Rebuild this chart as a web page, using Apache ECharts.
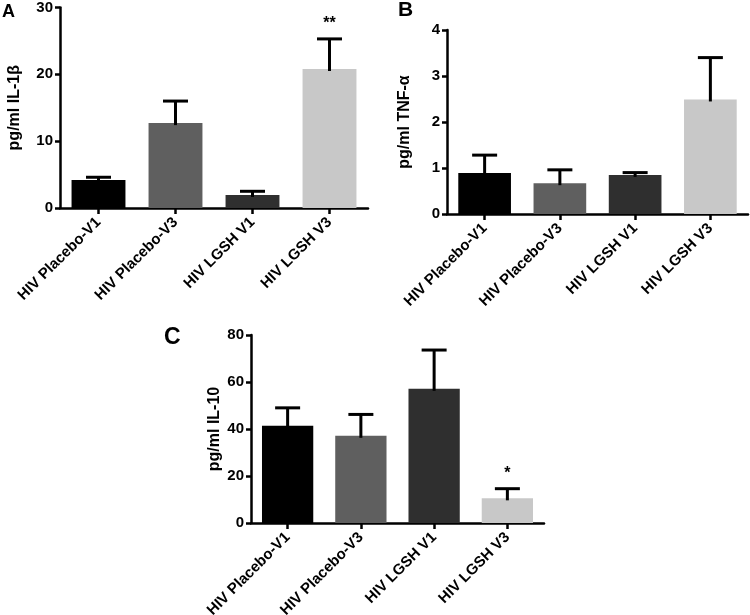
<!DOCTYPE html>
<html>
<head>
<meta charset="utf-8">
<script src="https://cdn.jsdelivr.net/npm/echarts@6/dist/echarts.min.js"></script>
<style>html,body{margin:0;padding:0;background:#fff}#c{width:750px;height:615px}</style>
</head>
<body>
<div id="c"></div>
<script>
const categories = ['HIV Placebo-V1', 'HIV Placebo-V3', 'HIV LGSH V1', 'HIV LGSH V3'];
const barColors = ['#000000', '#5f5f5f', '#2f2f2f', '#c8c8c8'];

const il1bMean = [4.2, 12.7, 1.95, 20.8];
const il1bSem = [0.4, 3.3, 0.55, 4.5];
const il1bSig = ['', '', '', '**'];
const il1bTicks = { min: 0, max: 30, interval: 10 };

const tnfMean = [0.89, 0.67, 0.85, 2.49];
const tnfSem = [0.39, 0.29, 0.05, 0.91];
const tnfSig = ['', '', '', ''];
const tnfTicks = { min: 0, max: 4, interval: 1 };

const il10Mean = [41.4, 37.1, 57.1, 10.5];
const il10Sem = [7.6, 9.1, 16.5, 4.1];
const il10Sig = ['', '', '', '*'];
const il10Ticks = { min: 0, max: 80, interval: 20 };

const FONT = '"Liberation Sans", Arial, sans-serif';

const panels = [
  { letter: 'A', title: 'pg/ml IL-1β', mean: il1bMean, sem: il1bSem, sig: il1bSig, ticks: il1bTicks,
    grid: { left: 60, top: 7.5, width: 308, height: 200.5 }, gap: 37 },
  { letter: 'B', title: 'pg/ml TNF-α', mean: tnfMean, sem: tnfSem, sig: tnfSig, ticks: tnfTicks,
    grid: { left: 447, top: 30, width: 301, height: 184 }, gap: 34 },
  { letter: 'C', title: 'pg/ml IL-10', mean: il10Mean, sem: il10Sem, sig: il10Sig, ticks: il10Ticks,
    grid: { left: 251, top: 335, width: 293, height: 188 }, gap: 28 }
];

const grids = [], xAxes = [], yAxes = [], series = [];
panels.forEach((p, i) => {
  grids.push(Object.assign({ containLabel: false, outerBoundsMode: 'none' }, p.grid));
  xAxes.push({
    type: 'category', gridIndex: i, data: categories,
    axisLine: { lineStyle: { color: '#000', width: 2.5 } },
    axisTick: { show: true, alignWithLabel: true, length: 6, lineStyle: { color: '#000', width: 2.5 } },
    axisLabel: { rotate: 45, margin: 12, color: '#000', fontFamily: FONT, fontWeight: 'bold', fontSize: 15, interval: 0 },
    splitLine: { show: false }
  });
  yAxes.push({
    type: 'value', gridIndex: i, min: p.ticks.min, max: p.ticks.max, interval: p.ticks.interval,
    name: p.title, nameLocation: 'middle', nameRotate: 90, nameGap: p.gap,
    nameTextStyle: { color: '#000', fontFamily: FONT, fontWeight: 'bold', fontSize: 16 },
    axisLine: { show: true, lineStyle: { color: '#000', width: 2.5 } },
    axisTick: { show: true, length: 5, lineStyle: { color: '#000', width: 2.5 } },
    axisLabel: { margin: 7, color: '#000', fontFamily: FONT, fontWeight: 'bold', fontSize: 15 },
    splitLine: { show: false }
  });
  series.push({
    type: 'bar', xAxisIndex: i, yAxisIndex: i, barWidth: '70%',
    data: p.mean.map((v, k) => ({ value: v, itemStyle: { color: barColors[k] } })),
    silent: true, animation: false
  });
  series.push({
    type: 'custom', xAxisIndex: i, yAxisIndex: i, animation: false, silent: true, z: 5,
    data: p.mean.map((v, k) => [k, v, p.sem[k]]),
    renderItem: function (params, api) {
      const k = api.value(0), v = api.value(1), e = api.value(2);
      const sig = p.sig[params.dataIndex];
      const base = api.coord([k, v]);
      const top = api.coord([k, v + e]);
      const half = 12.5;
      const children = [
        { type: 'line', shape: { x1: base[0], y1: base[1] + 2, x2: top[0], y2: top[1] },
          style: { stroke: '#000', lineWidth: 3 } },
        { type: 'line', shape: { x1: top[0] - half, y1: top[1], x2: top[0] + half, y2: top[1] },
          style: { stroke: '#000', lineWidth: 3 } }
      ];
      if (sig) {
        children.push({ type: 'text', x: top[0], y: top[1] - 7,
          style: { text: sig, fill: '#000', font: 'bold 16px ' + FONT, textAlign: 'center', textVerticalAlign: 'bottom' } });
      }
      return { type: 'group', children: children };
    }
  });
});

const chart = echarts.init(document.getElementById('c'), null, { renderer: 'canvas' });
chart.setOption({
  backgroundColor: '#fff',
  animation: false,
  grid: grids, xAxis: xAxes, yAxis: yAxes, series: series,
  graphic: [
    { type: 'text', left: 2, top: 3, style: { text: 'A', fill: '#000', font: 'bold 18px ' + FONT } },
    { type: 'text', left: 398, top: 0, style: { text: 'B', fill: '#000', font: 'bold 21px ' + FONT } },
    { type: 'text', left: 164, top: 326, style: { text: 'C', fill: '#000', font: 'bold 23px ' + FONT } }
  ]
});
</script>
</body>
</html>
